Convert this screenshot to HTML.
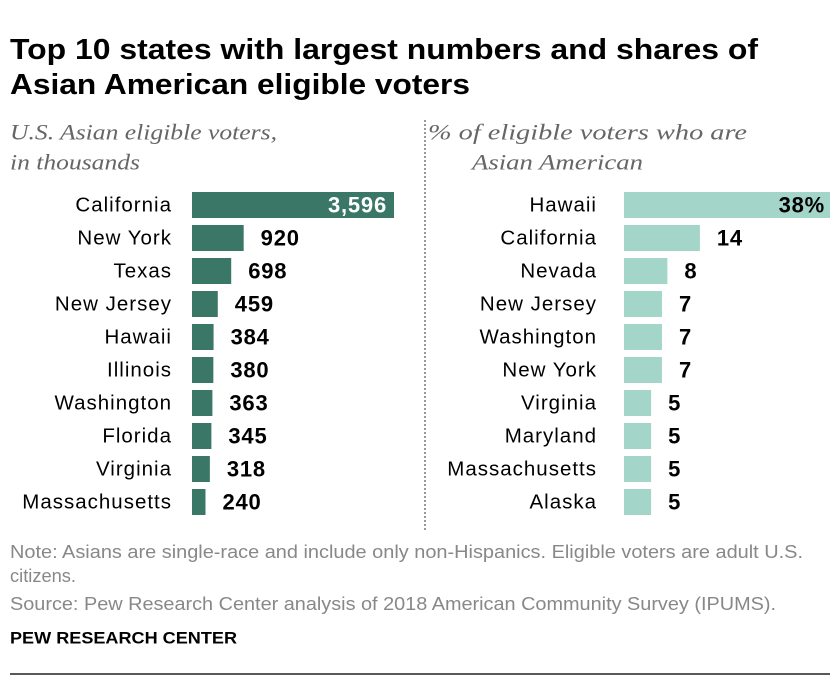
<!DOCTYPE html>
<html><head><meta charset="utf-8"><style>
body{margin:0;width:840px;height:688px;background:#fff;font-family:"Liberation Sans",sans-serif;position:relative;overflow:hidden}
svg{position:absolute;left:0;top:0}
</style></head><body>
<svg width="840" height="688">
<g id="g"></g>
</svg>
<script>
const leftStates=["California","New York","Texas","New Jersey","Hawaii","Illinois","Washington","Florida","Virginia","Massachusetts"];
const leftValues=[3596,920,698,459,384,380,363,345,318,240];
const leftLabels=["3,596","920","698","459","384","380","363","345","318","240"];
const rightStates=["Hawaii","California","Nevada","New Jersey","Washington","New York","Virginia","Maryland","Massachusetts","Alaska"];
const rightValues=[38,14,8,7,7,7,5,5,5,5];
const rightLabels=["38%","14","8","7","7","7","5","5","5","5"];
const NS="http://www.w3.org/2000/svg",g=document.getElementById('g');
function mk(tag,attrs,txt){const e=document.createElementNS(NS,tag);for(const k in attrs)e.setAttribute(k,attrs[k]);if(txt!=null)e.textContent=txt;g.appendChild(e);return e;}
const rowY=i=>205+i*33;
const xL=v=>192+v*(202/3596);
const xR=v=>624+v*(206/38);
function text(x,y,s,o){return mk('text',Object.assign({x:x,y:y,'font-size':19,fill:'#000','dominant-baseline':'central'},o||{}),s);}
let e;
e=text(10,50,"Top 10 states with largest numbers and shares of",{'font-weight':'bold','font-size':29,textLength:748,lengthAdjust:'spacingAndGlyphs'});

e=text(10,85,"Asian American eligible voters",{'font-weight':'bold','font-size':29,textLength:460,lengthAdjust:'spacingAndGlyphs'});

const it={'font-family':'Liberation Serif','font-style':'italic',fill:'#666','font-size':22,lengthAdjust:'spacingAndGlyphs'};
e=text(10,132,"U.S. Asian eligible voters,",Object.assign({textLength:267},it));

e=text(10,162,"in thousands",Object.assign({textLength:130},it));

e=text(428,132,"% of eligible voters who are",Object.assign({textLength:319},it));

e=text(472,162,"Asian American",Object.assign({textLength:171},it));

e=mk('line',{x1:425,y1:120,x2:425,y2:530,stroke:'#999','stroke-width':2,'stroke-dasharray':'2,2'});

const lab={'text-anchor':'end','font-size':20.5,'letter-spacing':'1px'};
const val={'font-weight':'bold','font-size':22,'letter-spacing':'0.8px'};
leftStates.forEach((s,i)=>{
 const y=rowY(i);
 e=text(172,y,s,lab);
 e=mk('rect',{x:xL(0),y:y-13,width:xL(leftValues[i])-xL(0),height:26,fill:'#3a7767'});
 
 const inside=i===0;
 e=text(inside?xL(leftValues[i])-7:xL(leftValues[i])+17,y,leftLabels[i],Object.assign({},val,{'text-anchor':inside?'end':'start',fill:inside?'#fff':'#000'}));
 
});
rightStates.forEach((s,i)=>{
 const y=rowY(i);
 e=text(597,y,s,lab);
 e=mk('rect',{x:xR(0),y:y-13,width:xR(rightValues[i])-xR(0),height:26,fill:'#a3d5c8'});
 
 const inside=i===0;
 e=text(inside?xR(rightValues[i])-5:xR(rightValues[i])+17,y,rightLabels[i],Object.assign({},val,{'text-anchor':inside?'end':'start'}));
 
});
const nt={fill:'#888','font-size':18,lengthAdjust:'spacingAndGlyphs'};
e=text(10,552,"Note: Asians are single-race and include only non-Hispanics. Eligible voters are adult U.S.",Object.assign({textLength:793},nt));

e=text(10,576,"citizens.",Object.assign({textLength:66},nt));

e=text(10,604,"Source: Pew Research Center analysis of 2018 American Community Survey (IPUMS).",Object.assign({textLength:766},nt));

e=text(10,638,"PEW RESEARCH CENTER",{'font-weight':'bold','font-size':17,textLength:227,lengthAdjust:'spacingAndGlyphs'});

e=mk('line',{x1:10,y1:674,x2:830,y2:674,stroke:'#222','stroke-width':1.5});

</script>
</body></html>
